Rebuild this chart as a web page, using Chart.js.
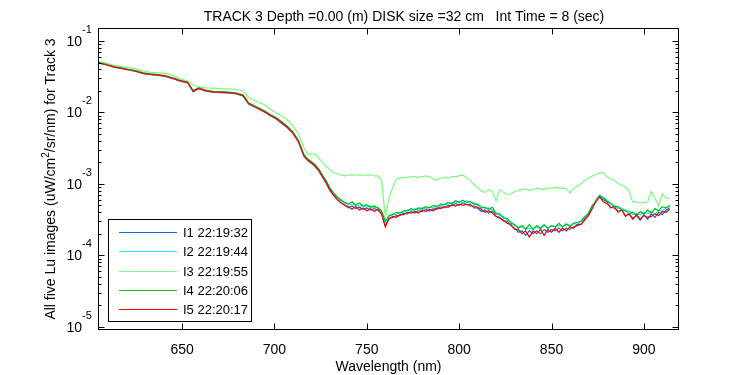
<!DOCTYPE html>
<html>
<head>
<meta charset="utf-8">
<script src="https://cdn.jsdelivr.net/npm/chart.js@4.4.1/dist/chart.umd.min.js"></script>
<style>
  html, body { margin: 0; padding: 0; background: #fff; }
  #wrap { width: 750px; height: 375px; }
</style>
</head>
<body>
<div id="wrap"><canvas id="chart" width="750" height="375"></canvas></div>
<script>
// Lu spectra, track 3 - five images overlaid on a log axis

const WAVELENGTHS = [
    605, 609, 613, 617, 621, 625, 629, 633, 637, 641, 645, 649, 653,
    656, 659, 663, 667, 671, 675, 679, 683, 686, 689, 692, 695, 698, 701, 704, 707, 710, 713, 716, 718,
    720, 722, 724, 726, 728, 730, 732, 734, 736, 738,
    740, 742, 744, 746, 748, 750, 752, 754, 756, 758,
    760, 762, 764, 766, 768, 770, 772, 774, 776, 778,
    780, 782, 784, 786, 788, 790, 792, 794, 796, 798,
    800, 802, 804, 806, 808, 810, 812, 814, 816, 818,
    820, 822, 824, 826, 828, 830, 832, 834, 836, 838,
    840, 842, 844, 846, 848, 850, 852, 854, 856, 858,
    860, 862, 864, 866, 868, 870, 872, 874, 876, 878,
    880, 882, 884, 886, 888, 890, 892, 894, 896, 898,
    900, 902, 904, 906, 908, 910, 912, 914
];

const I1 = [
    4.90e-2, 4.62e-2, 4.30e-2, 4.12e-2, 3.93e-2, 3.74e-2, 3.50e-2, 3.38e-2, 3.30e-2, 3.19e-2, 2.98e-2, 2.74e-2, 2.60e-2,
    1.95e-2, 2.15e-2, 1.99e-2, 1.92e-2, 1.89e-2, 1.88e-2, 1.83e-2, 1.70e-2, 1.31e-2, 1.20e-2, 1.10e-2, 1.00e-2, 8.9e-3, 8.1e-3, 7.0e-3, 6.1e-3, 5.1e-3, 3.85e-3, 2.42e-3, 2.12e-3,
    1.95e-3, 1.75e-3, 1.52e-3, 1.24e-3, 1.02e-3, 8.1e-4, 6.9e-4, 6.0e-4, 5.4e-4, 5.1e-4,
    4.6e-4, 4.9e-4, 4.5e-4, 4.7e-4, 4.4e-4, 4.6e-4, 4.3e-4, 4.5e-4, 4.3e-4, 3.8e-4,
    2.6e-4, 3.3e-4, 3.4e-4, 3.6e-4, 3.6e-4, 3.9e-4, 3.8e-4, 4.1e-4, 3.9e-4, 4.2e-4,
    4.1e-4, 4.4e-4, 4.2e-4, 4.5e-4, 4.4e-4, 4.8e-4, 4.6e-4, 5.0e-4, 4.9e-4, 5.3e-4,
    5.0e-4, 5.4e-4, 5.1e-4, 5.2e-4, 4.6e-4, 4.6e-4, 4.1e-4, 4.3e-4, 3.9e-4, 4.2e-4,
    3.5e-4, 3.4e-4, 3.0e-4, 3.0e-4, 2.6e-4, 2.4e-4, 2.1e-4, 2.2e-4, 1.9e-4, 2.2e-4,
    2.0e-4, 2.2e-4, 2.0e-4, 2.3e-4, 2.1e-4, 2.3e-4, 2.2e-4, 2.4e-4, 2.2e-4, 2.4e-4,
    2.3e-4, 2.5e-4, 2.6e-4, 2.7e-4, 3.1e-4, 3.6e-4, 4.6e-4, 5.8e-4, 6.6e-4, 6.0e-4,
    5.6e-4, 4.6e-4, 4.9e-4, 4.0e-4, 4.3e-4, 3.6e-4, 3.8e-4, 3.3e-4, 3.6e-4, 3.1e-4,
    3.7e-4, 3.2e-4, 3.8e-4, 3.4e-4, 4.0e-4, 3.7e-4, 4.3e-4, 4.6e-4
];

const I2 = [
    4.95e-2, 4.66e-2, 4.36e-2, 4.16e-2, 3.97e-2, 3.79e-2, 3.54e-2, 3.42e-2, 3.34e-2, 3.23e-2, 3.01e-2, 2.78e-2, 2.63e-2,
    2.00e-2, 2.18e-2, 2.01e-2, 1.94e-2, 1.92e-2, 1.90e-2, 1.85e-2, 1.73e-2, 1.34e-2, 1.22e-2, 1.12e-2, 1.02e-2, 9.1e-3, 8.3e-3, 7.2e-3, 6.3e-3, 5.2e-3, 4.0e-3, 2.5e-3, 2.2e-3,
    2.0e-3, 1.83e-3, 1.6e-3, 1.3e-3, 1.1e-3, 8.7e-4, 7.4e-4, 6.5e-4, 5.9e-4, 5.4e-4,
    5.3e-4, 5.0e-4, 5.2e-4, 4.8e-4, 5.0e-4, 4.7e-4, 4.9e-4, 4.6e-4, 4.7e-4, 4.1e-4,
    2.9e-4, 3.5e-4, 3.8e-4, 3.7e-4, 4.0e-4, 4.0e-4, 4.3e-4, 4.2e-4, 4.5e-4, 4.3e-4,
    4.6e-4, 4.5e-4, 4.7e-4, 4.6e-4, 4.9e-4, 4.9e-4, 5.2e-4, 5.1e-4, 5.5e-4, 5.4e-4,
    5.7e-4, 5.4e-4, 5.8e-4, 5.4e-4, 5.5e-4, 5.0e-4, 4.9e-4, 4.5e-4, 4.6e-4, 4.3e-4,
    3.9e-4, 3.6e-4, 3.5e-4, 3.1e-4, 3.0e-4, 2.6e-4, 2.5e-4, 2.5e-4, 2.3e-4, 2.4e-4,
    2.3e-4, 2.5e-4, 2.3e-4, 2.6e-4, 2.4e-4, 2.6e-4, 2.5e-4, 2.6e-4, 2.5e-4, 2.8e-4,
    2.5e-4, 2.8e-4, 2.7e-4, 3.0e-4, 3.3e-4, 4.0e-4, 4.8e-4, 6.0e-4, 7.0e-4, 6.5e-4,
    5.9e-4, 5.2e-4, 5.0e-4, 4.5e-4, 4.6e-4, 4.1e-4, 4.2e-4, 3.7e-4, 3.9e-4, 3.7e-4,
    4.0e-4, 3.8e-4, 4.1e-4, 3.7e-4, 4.2e-4, 4.2e-4, 4.6e-4, 4.8e-4
];

const I3 = [
    5.16e-2, 4.90e-2, 4.57e-2, 4.37e-2, 4.27e-2, 4.07e-2, 3.80e-2, 3.63e-2, 3.59e-2, 3.55e-2, 3.31e-2, 2.95e-2, 2.75e-2,
    2.40e-2, 2.29e-2, 2.21e-2, 2.19e-2, 2.16e-2, 2.14e-2, 2.11e-2, 2.00e-2, 1.62e-2, 1.48e-2, 1.38e-2, 1.26e-2, 1.10e-2, 9.8e-3, 8.9e-3, 7.9e-3, 6.6e-3, 5.0e-3, 3.2e-3, 2.6e-3,
    2.6e-3, 2.6e-3, 2.3e-3, 2.0e-3, 1.78e-3, 1.58e-3, 1.45e-3, 1.38e-3, 1.32e-3, 1.29e-3,
    1.32e-3, 1.35e-3, 1.32e-3, 1.35e-3, 1.32e-3, 1.32e-3, 1.35e-3, 1.29e-3, 1.29e-3, 1.12e-3,
    3.5e-4, 6.3e-4, 8.9e-4, 1.17e-3, 1.20e-3, 1.23e-3, 1.23e-3, 1.26e-3, 1.26e-3, 1.23e-3,
    1.26e-3, 1.29e-3, 1.26e-3, 1.17e-3, 1.12e-3, 1.20e-3, 1.23e-3, 1.20e-3, 1.26e-3, 1.26e-3,
    1.29e-3, 1.32e-3, 1.23e-3, 1.12e-3, 9.8e-4, 8.9e-4, 7.9e-4, 7.6e-4, 8.3e-4, 7.9e-4,
    5.75e-4, 8.3e-4, 7.6e-4, 7.1e-4, 7.2e-4, 7.8e-4, 8.1e-4, 8.3e-4, 8.5e-4, 8.1e-4,
    8.3e-4, 8.7e-4, 8.5e-4, 8.3e-4, 8.7e-4, 8.7e-4, 8.9e-4, 8.7e-4, 8.7e-4, 8.5e-4,
    7.4e-4, 8.7e-4, 9.3e-4, 1.0e-3, 1.12e-3, 1.20e-3, 1.29e-3, 1.35e-3, 1.41e-3, 1.45e-3,
    1.26e-3, 1.17e-3, 1.12e-3, 1.02e-3, 9.5e-4, 9.1e-4, 7.9e-4, 5.6e-4, 5.6e-4, 5.4e-4,
    5.5e-4, 5.6e-4, 7.8e-4, 6.3e-4, 4.9e-4, 7.2e-4, 6.3e-4, 6.3e-4
];

const I4 = [
    5.00e-2, 4.72e-2, 4.40e-2, 4.21e-2, 4.02e-2, 3.84e-2, 3.59e-2, 3.47e-2, 3.38e-2, 3.28e-2, 3.06e-2, 2.82e-2, 2.67e-2,
    2.03e-2, 2.22e-2, 2.04e-2, 1.97e-2, 1.95e-2, 1.93e-2, 1.88e-2, 1.76e-2, 1.37e-2, 1.25e-2, 1.14e-2, 1.04e-2, 9.3e-3, 8.5e-3, 7.4e-3, 6.4e-3, 5.35e-3, 4.05e-3, 2.56e-3, 2.24e-3,
    2.05e-3, 1.86e-3, 1.62e-3, 1.33e-3, 1.1e-3, 8.8e-4, 7.5e-4, 6.5e-4, 6.0e-4, 5.5e-4,
    5.2e-4, 5.6e-4, 5.0e-4, 5.4e-4, 4.9e-4, 5.1e-4, 4.7e-4, 4.9e-4, 4.6e-4, 4.2e-4,
    3.0e-4, 3.6e-4, 3.7e-4, 4.0e-4, 3.9e-4, 4.2e-4, 4.2e-4, 4.5e-4, 4.3e-4, 4.6e-4,
    4.5e-4, 4.8e-4, 4.6e-4, 5.0e-4, 4.8e-4, 5.2e-4, 5.1e-4, 5.5e-4, 5.3e-4, 5.8e-4,
    5.5e-4, 5.9e-4, 5.5e-4, 5.7e-4, 5.2e-4, 5.2e-4, 4.6e-4, 4.7e-4, 4.4e-4, 4.7e-4,
    3.8e-4, 3.8e-4, 3.3e-4, 3.3e-4, 2.8e-4, 2.7e-4, 2.4e-4, 2.6e-4, 2.3e-4, 2.7e-4,
    2.3e-4, 2.6e-4, 2.4e-4, 2.7e-4, 2.4e-4, 2.6e-4, 2.5e-4, 2.8e-4, 2.5e-4, 2.7e-4,
    2.6e-4, 2.8e-4, 2.9e-4, 3.0e-4, 3.5e-4, 3.8e-4, 5.0e-4, 5.5e-4, 6.8e-4, 6.4e-4,
    5.7e-4, 5.4e-4, 4.8e-4, 4.8e-4, 4.3e-4, 4.3e-4, 3.8e-4, 4.0e-4, 3.6e-4, 4.1e-4,
    3.8e-4, 4.3e-4, 3.9e-4, 4.5e-4, 4.2e-4, 4.8e-4, 4.6e-4, 5.0e-4
];

const I5 = [
    4.93e-2, 4.65e-2, 4.34e-2, 4.14e-2, 3.96e-2, 3.77e-2, 3.53e-2, 3.40e-2, 3.33e-2, 3.22e-2, 3.00e-2, 2.77e-2, 2.62e-2,
    1.97e-2, 2.17e-2, 2.00e-2, 1.93e-2, 1.91e-2, 1.89e-2, 1.84e-2, 1.72e-2, 1.33e-2, 1.21e-2, 1.11e-2, 1.01e-2, 9.0e-3, 8.2e-3, 7.1e-3, 6.2e-3, 5.15e-3, 3.9e-3, 2.46e-3, 2.15e-3,
    1.97e-3, 1.78e-3, 1.55e-3, 1.27e-3, 1.04e-3, 8.3e-4, 7.0e-4, 6.1e-4, 5.5e-4, 5.0e-4,
    4.8e-4, 4.4e-4, 4.8e-4, 4.3e-4, 4.6e-4, 4.2e-4, 4.5e-4, 4.1e-4, 4.4e-4, 3.8e-4,
    2.5e-4, 3.2e-4, 3.5e-4, 3.4e-4, 3.7e-4, 3.7e-4, 4.0e-4, 3.9e-4, 4.1e-4, 3.9e-4,
    4.3e-4, 4.1e-4, 4.4e-4, 4.2e-4, 4.6e-4, 4.5e-4, 4.8e-4, 4.7e-4, 5.1e-4, 4.9e-4,
    5.2e-4, 5.0e-4, 5.2e-4, 4.9e-4, 4.9e-4, 4.7e-4, 4.4e-4, 4.0e-4, 4.2e-4, 3.9e-4,
    3.5e-4, 3.3e-4, 3.1e-4, 2.8e-4, 2.7e-4, 2.3e-4, 2.3e-4, 2.0e-4, 2.2e-4, 1.8e-4,
    2.2e-4, 2.0e-4, 2.3e-4, 1.9e-4, 2.3e-4, 2.1e-4, 2.4e-4, 2.1e-4, 2.4e-4, 2.2e-4,
    2.5e-4, 2.4e-4, 2.7e-4, 2.7e-4, 3.2e-4, 3.6e-4, 4.5e-4, 5.7e-4, 6.6e-4, 5.6e-4,
    5.3e-4, 4.7e-4, 4.6e-4, 4.1e-4, 4.3e-4, 3.5e-4, 3.8e-4, 3.2e-4, 3.7e-4, 3.2e-4,
    3.6e-4, 3.4e-4, 3.5e-4, 3.8e-4, 3.6e-4, 4.1e-4, 4.0e-4, 4.4e-4
];

const SERIES = [I1, I2, I3, I4, I5];
const SERIES_LABELS = ['I1 22:19:32', 'I2 22:19:44', 'I3 22:19:55', 'I4 22:20:06', 'I5 22:20:17'];
const SERIES_COLORS = ['#0a6ee0', '#1ee6f5', '#7dfa7d', '#00c010', '#ff0000'];

const X_TICKS = [650, 700, 750, 800, 850, 900];
const Y_EXPONENTS = [-5, -4, -3, -2, -1];

const TITLE = 'TRACK 3 Depth =0.00 (m) DISK size =32 cm   Int Time = 8 (sec)';
const X_TITLE = 'Wavelength (nm)';
const Y_TITLE = ['All five Lu images (uW/cm', '2', '/sr/nm) for Track 3'];

const FONT = '"Liberation Sans", Arial, Helvetica, sans-serif';

// Axes "facon MATLAB" : boite, graduations vers l'interieur, etiquettes 10^n, legende
const matlabAxes = {
    id: 'matlabAxes',
    afterDraw(chart) {
        const ctx = chart.ctx;
        const area = chart.chartArea;
        const xs = chart.scales.x;
        const ys = chart.scales.y;
        const L = Math.round(area.left) + 0.5;
        const R = Math.round(area.right) - 0.5;
        const T = Math.round(area.top) + 0.5;
        const B = Math.round(area.bottom) - 0.5;

        ctx.save();
        ctx.strokeStyle = '#000';
        ctx.fillStyle = '#000';
        ctx.lineWidth = 1;
        ctx.strokeRect(L, T, R - L, B - T);

        ctx.beginPath();
        X_TICKS.forEach(v => {
            const px = Math.round(xs.getPixelForValue(v)) + 0.5;
            ctx.moveTo(px, B); ctx.lineTo(px, B - 6);
            ctx.moveTo(px, T); ctx.lineTo(px, T + 6);
        });
        Y_EXPONENTS.forEach(e => {
            for (let m = 1; m <= 9; m++) {
                const v = m * Math.pow(10, e);
                if (v < ys.min || v > ys.max) continue;
                const py = Math.round(ys.getPixelForValue(v)) + 0.5;
                const len = m === 1 ? 6 : 3;
                ctx.moveTo(L, py); ctx.lineTo(L + len, py);
                ctx.moveTo(R, py); ctx.lineTo(R - len, py);
            }
        });
        ctx.stroke();

        // tick labels
        ctx.font = '14px ' + FONT;
        ctx.textBaseline = 'alphabetic';
        ctx.textAlign = 'center';
        X_TICKS.forEach(v => {
            ctx.fillText(String(v), xs.getPixelForValue(v), B + 24);
        });
        Y_EXPONENTS.forEach(e => {
            const py = ys.getPixelForValue(Math.pow(10, e));
            ctx.font = '14px ' + FONT;
            ctx.textAlign = 'right';
            ctx.fillText('10', 82, py + 5);
            ctx.font = '11px ' + FONT;
            ctx.textAlign = 'left';
            ctx.fillText(String(e), 82, py - 8);
        });

        // titles
        ctx.font = '14px ' + FONT;
        ctx.textAlign = 'center';
        ctx.fillText(TITLE, 404, 21);
        ctx.fillText(X_TITLE, (L + R) / 2, 371);

        ctx.save();
        ctx.translate(55, (T + B) / 2);
        ctx.rotate(-Math.PI / 2);
        ctx.font = '14px ' + FONT;
        const w1 = ctx.measureText(Y_TITLE[0]).width;
        const w3 = ctx.measureText(Y_TITLE[2]).width;
        ctx.font = '10px ' + FONT;
        const w2 = ctx.measureText(Y_TITLE[1]).width;
        const x0 = -(w1 + w2 + w3) / 2;
        ctx.textAlign = 'left';
        ctx.font = '14px ' + FONT;
        ctx.fillText(Y_TITLE[0], x0, 0);
        ctx.font = '10px ' + FONT;
        ctx.fillText(Y_TITLE[1], x0 + w1, -6);
        ctx.font = '14px ' + FONT;
        ctx.fillText(Y_TITLE[2], x0 + w1 + w2, 0);
        ctx.restore();

        // legend box
        const lx = 108.5, ly = 219.5, lw = 143, lh = 102;
        ctx.fillStyle = '#fff';
        ctx.fillRect(lx, ly, lw, lh);
        ctx.strokeStyle = '#000';
        ctx.strokeRect(lx, ly, lw, lh);
        ctx.font = '13px ' + FONT;
        ctx.textAlign = 'left';
        ctx.textBaseline = 'middle';
        SERIES_LABELS.forEach((label, i) => {
            const ry = Math.round(232 + i * 19.3) + 0.5;
            ctx.strokeStyle = SERIES_COLORS[i];
            ctx.beginPath();
            ctx.moveTo(119, ry);
            ctx.lineTo(177, ry);
            ctx.stroke();
            ctx.fillStyle = '#000';
            ctx.fillText(label, 183, ry + 1);
        });
        ctx.restore();
    }
};

const datasets = SERIES.map((values, i) => ({
    label: SERIES_LABELS[i],
    data: values.map((v, k) => ({ x: WAVELENGTHS[k], y: v })),
    borderColor: SERIES_COLORS[i],
    borderWidth: 1.2,
    pointRadius: 0,
    tension: 0,
    fill: false,
    // I5 drawn last (on top), like the original plot
    order: SERIES.length - i
}));

new Chart(document.getElementById('chart'), {
    type: 'line',
    data: { datasets },
    options: {
        responsive: false,
        animation: false,
        devicePixelRatio: 1,
        layout: { padding: { left: 98, right: 71, top: 28, bottom: 45 } },
        plugins: {
            legend: { display: false },
            title: { display: false },
            tooltip: { enabled: false }
        },
        scales: {
            x: { type: 'linear', min: 604.5, max: 919, display: false },
            y: { type: 'logarithmic', min: Math.pow(10, -5.046), max: Math.pow(10, -0.818), display: false }
        }
    },
    plugins: [matlabAxes]
});
</script>
</body>
</html>
